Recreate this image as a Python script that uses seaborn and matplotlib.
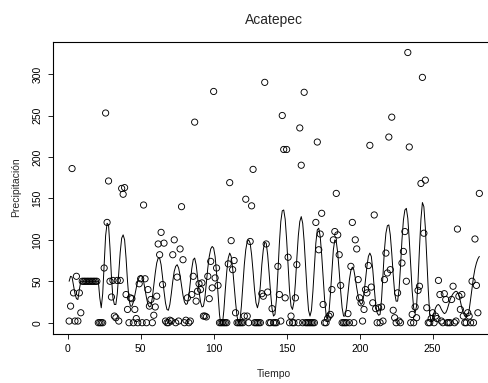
import matplotlib
matplotlib.use('Agg')
import matplotlib.pyplot as plt
import numpy as np
import pandas as pd
import seaborn as sns

# Observed precipitation (one value per time step 1..282)
precip = [
    2, 20, 186, 36, 2, 56, 2, 36, 12, 50,
    50, 50, 50, 50, 50, 50, 50, 50, 50, 50,
    0, 0, 0, 0, 66, 253, 121, 171, 50, 31,
    51, 8, 6, 51, 2, 51, 162, 155, 163, 34,
    16, 0, 30, 29, 0, 16, 5, 0, 47, 53,
    0, 142, 53, 0, 40, 20, 28, 0, 9, 19,
    32, 95, 82, 109, 46, 96, 2, 0, 0, 3,
    2, 82, 100, 0, 55, 2, 89, 140, 76, 0,
    3, 30, 0, 2, 34, 56, 242, 26, 38, 47,
    40, 48, 8, 8, 7, 56, 29, 74, 42, 279,
    54, 66, 45, 0, 0, 0, 0, 0, 0, 71,
    169, 99, 64, 75, 12, 0, 0, 0, 0, 0,
    8, 149, 8, 0, 98, 141, 185, 0, 0, 0,
    0, 0, 35, 32, 290, 95, 37, 0, 0, 17,
    0, 0, 0, 68, 34, 2, 250, 209, 30, 209,
    79, 0, 8, 0, 0, 30, 70, 0, 235, 190,
    0, 278, 0, 0, 0, 0, 0, 0, 0, 121,
    218, 88, 107, 132, 22, 0, 0, 5, 8, 10,
    40, 100, 110, 156, 106, 82, 45, 0, 0, 0,
    0, 11, 0, 68, 121, 0, 100, 89, 52, 30,
    24, 2, 16, 40, 36, 69, 214, 43, 24, 130,
    17, 0, 18, 0, 19, 2, 52, 84, 60, 224,
    64, 248, 15, 6, 0, 36, 2, 0, 72, 86,
    110, 50, 326, 212, 0, 10, 0, 19, 6, 39,
    44, 168, 296, 108, 172, 18, 0, 0, 5, 12,
    0, 8, 5, 51, 34, 2, 0, 35, 28, 0,
    0, 0, 28, 44, 0, 2, 113, 32, 16, 34,
    8, 0, 0, 12, 8, 0, 50, 0, 101, 45,
    12, 156,
]

# Fitted curve (one value per time step 1..282)
fitted = [
    50, 56, 55, 45, 35, 29, 28, 40, 50, 50,
    50, 50, 50, 50, 50, 50, 50, 50, 50, 50,
    50, 30, 18, 35, 70, 105, 120, 118, 90, 55,
    30, 22, 22, 35, 60, 85, 102, 106, 100, 78,
    50, 28, 20, 20, 25, 33, 42, 50, 55, 57,
    56, 50, 40, 30, 22, 19, 20, 30, 45, 60,
    72, 78, 78, 70, 55, 38, 24, 16, 15, 22,
    35, 50, 62, 68, 70, 66, 57, 45, 33, 25,
    22, 23, 32, 48, 65, 76, 78, 70, 55, 38,
    25, 19, 20, 30, 48, 66, 80, 89, 92, 90,
    80, 60, 35, 10, -3, -2, 15, 40, 62, 78,
    84, 80, 66, 46, 25, 8, 0, 2, 20, 45,
    70, 88, 98, 100, 96, 82, 62, 40, 24, 18,
    25, 45, 70, 88, 97, 96, 82, 60, 36, 17,
    8, 10, 28, 60, 95, 122, 135, 136, 125, 100,
    68, 38, 20, 16, 25, 48, 78, 105, 122, 128,
    120, 98, 68, 38, 15, 8, 15, 38, 68, 96,
    112, 114, 104, 82, 55, 28, 10, 5, 12, 35,
    62, 88, 100, 98, 84, 62, 38, 18, 8, 8,
    18, 35, 52, 63, 67, 64, 54, 42, 32, 25,
    22, 24, 35, 52, 68, 80, 84, 80, 64, 42,
    22, 12, 9, 10, 28, 58, 88, 108, 117, 118,
    106, 84, 58, 36, 26, 26, 40, 68, 100, 124,
    136, 138, 126, 100, 68, 38, 18, 12, 20, 50,
    90, 125, 145, 140, 115, 78, 40, 10, 2, 5,
    12, 18, 21, 22, 20, 16, 13, 11, 12, 16,
    22, 28, 32, 35, 37, 38, 37, 33, 26, 18,
    12, 8, 7, 8, 15, 28, 42, 55, 65, 72,
    77, 80,
]

tiempo = list(range(1, len(precip) + 1))
x_ticks = [0, 50, 100, 150, 200, 250]
y_ticks = [0, 50, 100, 150, 200, 250, 300]

sns.set_theme(style='ticks')
plt.rcParams['font.family'] = ['Liberation Sans', 'DejaVu Sans']

df = pd.DataFrame({'Tiempo': tiempo, 'Precipitacion': precip, 'Ajuste': fitted})

fig = plt.figure(figsize=(4.89, 3.83), dpi=100)
ax = fig.add_axes([0.1078, 0.1292, 0.906, 0.7619])

sns.lineplot(data=df, x='Tiempo', y='Ajuste', color='black', linewidth=0.7,
             errorbar=None, ax=ax)
sns.scatterplot(data=df, x='Tiempo', y='Precipitacion', marker='o', s=20,
                facecolors='none', edgecolor='black', linewidth=0.65, ax=ax)

n = len(tiempo)
ax.set_xlim(1 - 0.04 * (n - 1), n + 0.04 * (n - 1))
ymin, ymax = min(min(precip), 0), max(precip)
ax.set_ylim(ymin - 0.04 * (ymax - ymin), ymax + 0.04 * (ymax - ymin))
ax.set_xticks(x_ticks)
ax.set_yticks(y_ticks)
ax.set_xticklabels([str(v) for v in x_ticks])
ax.set_yticklabels([str(v) for v in y_ticks], rotation=90, va='center')

for sp in ax.spines.values():
    sp.set_visible(True)
    sp.set_color('black')
    sp.set_linewidth(0.8)

ax.tick_params(axis='both', direction='out', length=3.6, width=0.6,
               labelsize=7.5, colors='black', pad=4)
ax.set_xlabel('Tiempo', fontsize=7.5)
ax.set_ylabel('Precipitación', fontsize=7.5)
ax.xaxis.set_label_coords(0.5, -0.12)
ax.yaxis.set_label_coords(-0.072, 0.5)
ax.set_title('Acatepec', fontsize=10, pad=13)

fig.savefig('out.png', dpi=100)
